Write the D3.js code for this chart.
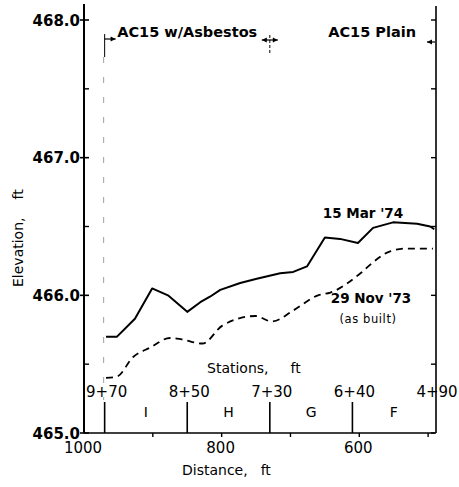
<!DOCTYPE html>
<html><head><meta charset="utf-8">
<script src="https://cdn.jsdelivr.net/npm/d3@7"></script>
<style>
html,body{margin:0;padding:0;background:#fff;}
svg text{font-family:"DejaVu Sans",sans-serif;fill:#000;}
</style></head>
<body><svg id="c" width="459" height="487"></svg>
<script>
// ---- data ----
const dist15Mar = [968,952,926,901,878,850,831,817,802,773,749,715,696,676,650,628,602,580,551,516,497,491];
const elev15Mar = [465.70,465.70,465.83,466.05,466.00,465.88,465.95,465.99,466.04,466.09,466.12,466.16,466.17,466.21,466.42,466.41,466.38,466.49,466.53,466.52,466.50,466.48];
const dist29Nov = [968,952,929,904,875,858,828,799,751,727,696,660,642,596,580,555,531,493];
const elev29Nov = [465.40,465.41,465.55,465.62,465.69,465.68,465.65,465.78,465.85,465.81,465.89,466.00,466.02,466.17,466.24,466.32,466.34,466.34];
const stationLabels = ["9+70","8+50","7+30","6+40","4+90"];
const stationDist = [970,850,730,610,490];
const sectionLabels = ["I","H","G","F"];
const yTicks = [465,466,467,468];
const yMinorTicks = [465.5,466.5,467.5];
const xTickLabels = [1000,800,600];
const xMinorTicks = [900,800,700,600,500];
const zoneLabels = ["AC15 w/Asbestos","AC15 Plain"];
const zoneBounds = [970,730,490];

const svg = d3.select("#c");
const x = d3.scaleLinear().domain([1000,490]).range([84,435]);
const y = d3.scaleLinear().domain([465,468]).range([433,20]);

// axes frame
svg.append("line").attr("x1",x(1000)).attr("x2",x(1000)).attr("y1",4).attr("y2",y(465)).attr("stroke","#000").attr("stroke-width",2);
svg.append("line").attr("x1",x(490)+1).attr("x2",x(490)+1).attr("y1",6).attr("y2",y(465)).attr("stroke","#000").attr("stroke-width",1.6);
svg.append("line").attr("x1",x(1000)).attr("x2",x(490)).attr("y1",y(465)).attr("y2",y(465)).attr("stroke","#000").attr("stroke-width",1.4);

// y ticks left
yTicks.forEach(v=>{
  svg.append("line").attr("x1",x(1000)-4).attr("x2",x(1000)+5).attr("y1",y(v)).attr("y2",y(v)).attr("stroke","#000").attr("stroke-width",1.6);
  svg.append("text").attr("x",80).attr("y",y(v)+5.5).attr("text-anchor","end")
    .attr("font-size",15).attr("font-weight","bold").text(d3.format(".1f")(v));
});
yMinorTicks.forEach(v=>{
  svg.append("line").attr("x1",x(1000)).attr("x2",x(1000)+5).attr("y1",y(v)).attr("y2",y(v)).attr("stroke","#000").attr("stroke-width",1.4);
});
// y ticks right
yTicks.concat(yMinorTicks).forEach(v=>{
  svg.append("line").attr("x1",x(490)+1).attr("x2",x(490)-4).attr("y1",y(v)).attr("y2",y(v)).attr("stroke","#000").attr("stroke-width",1.4);
});
// x ticks
xMinorTicks.forEach(v=>{
  svg.append("line").attr("x1",x(v)).attr("x2",x(v)).attr("y1",y(465)).attr("y2",y(465)+4).attr("stroke","#000").attr("stroke-width",1.4);
});
xTickLabels.forEach(v=>{
  svg.append("text").attr("x",x(v)-1).attr("y",y(465)+20).attr("text-anchor","middle")
    .attr("font-size",15).text(v);
});

// stations
stationDist.forEach((d,i)=>{
  if(i<stationDist.length-1)
    svg.append("line").attr("x1",x(d)).attr("x2",x(d)).attr("y1",402).attr("y2",y(465)).attr("stroke","#000").attr("stroke-width",1.6);
  svg.append("text").attr("x",x(d)+2).attr("y",397).attr("text-anchor","middle")
    .attr("font-size",15).text(stationLabels[i]);
});
sectionLabels.forEach((s,i)=>{
  const xm=(x(stationDist[i])+x(stationDist[i+1]))/2;
  svg.append("text").attr("x",xm).attr("y",417).attr("text-anchor","middle")
    .attr("font-size",14).attr("font-family","DejaVu Serif").text(s);
});
svg.append("text").attr("x",207).attr("y",373).attr("font-size",14)
  .text("Stations,").append("tspan").attr("dx",22).text("ft");

// axis titles
svg.append("text").attr("x",182).attr("y",475).attr("font-size",14)
  .text("Distance,").append("tspan").attr("dx",13).text("ft");
svg.append("text").attr("transform","translate(23,287) rotate(-90)").attr("font-size",14)
  .text("Elevation,").append("tspan").attr("dx",18).text("ft");

// left dashed boundary
svg.append("line").attr("x1",x(970)-1).attr("x2",x(970)-1).attr("y1",57).attr("y2",400)
  .attr("stroke","#888").attr("stroke-width",0.8).attr("stroke-dasharray","6,14");

// zone markers
function tri(xTip,yc,dir){ // dir +1 pointing right, -1 left
  const b=xTip-dir*5;
  svg.append("path").attr("d",`M${xTip},${yc}L${b},${yc-2.5}L${b},${yc+2.5}Z`).attr("fill","#000");
}
// left
svg.append("line").attr("x1",x(970)).attr("x2",x(970)).attr("y1",34).attr("y2",57).attr("stroke","#000").attr("stroke-width",1);
svg.append("line").attr("x1",x(970)).attr("x2",x(970)+11).attr("y1",39).attr("y2",39).attr("stroke","#000").attr("stroke-width",1.2);
tri(x(970)+11,39,1);
// middle
svg.append("line").attr("x1",x(730)).attr("x2",x(730)).attr("y1",35).attr("y2",55).attr("stroke","#000").attr("stroke-width",1).attr("stroke-dasharray","3,2");
svg.append("line").attr("x1",x(730)-8).attr("x2",x(730)+8).attr("y1",40).attr("y2",40).attr("stroke","#000").attr("stroke-width",1.2);
tri(x(730)-8,40,-1); tri(x(730)+8,40,1);
// right
svg.append("line").attr("x1",x(490)-8).attr("x2",x(490)).attr("y1",42).attr("y2",42).attr("stroke","#000").attr("stroke-width",1.2);
tri(x(490)-8,42,-1);

svg.append("text").attr("x",(x(zoneBounds[0])+x(zoneBounds[1]))/2).attr("y",37).attr("text-anchor","middle")
  .attr("font-size",14.5).attr("font-weight","bold").text(zoneLabels[0]);
svg.append("text").attr("x",x(zoneBounds[2])-19).attr("y",37).attr("text-anchor","end")
  .attr("font-size",14.5).attr("font-weight","bold").text(zoneLabels[1]);

// lines
const line = d3.line().x(d=>x(d[0])).y(d=>y(d[1]));
svg.append("path").datum(d3.zip(dist15Mar,elev15Mar)).attr("d",line)
  .attr("fill","none").attr("stroke","#000").attr("stroke-width",2).attr("stroke-linejoin","round");
svg.append("path").datum(d3.zip(dist29Nov,elev29Nov)).attr("d",line.curve(d3.curveMonotoneX))
  .attr("fill","none").attr("stroke","#000").attr("stroke-width",1.8).attr("stroke-dasharray","7,5");

// series labels
svg.append("text").attr("x",363).attr("y",218).attr("text-anchor","middle")
  .attr("font-size",13.5).attr("font-weight","bold").text("15 Mar '74");
svg.append("text").attr("x",371).attr("y",303).attr("text-anchor","middle")
  .attr("font-size",13.5).attr("font-weight","bold").text("29 Nov '73");
svg.append("text").attr("x",368).attr("y",323).attr("text-anchor","middle")
  .attr("font-size",11.5).attr("letter-spacing",0.6).text("(as built)");
</script></body></html>
